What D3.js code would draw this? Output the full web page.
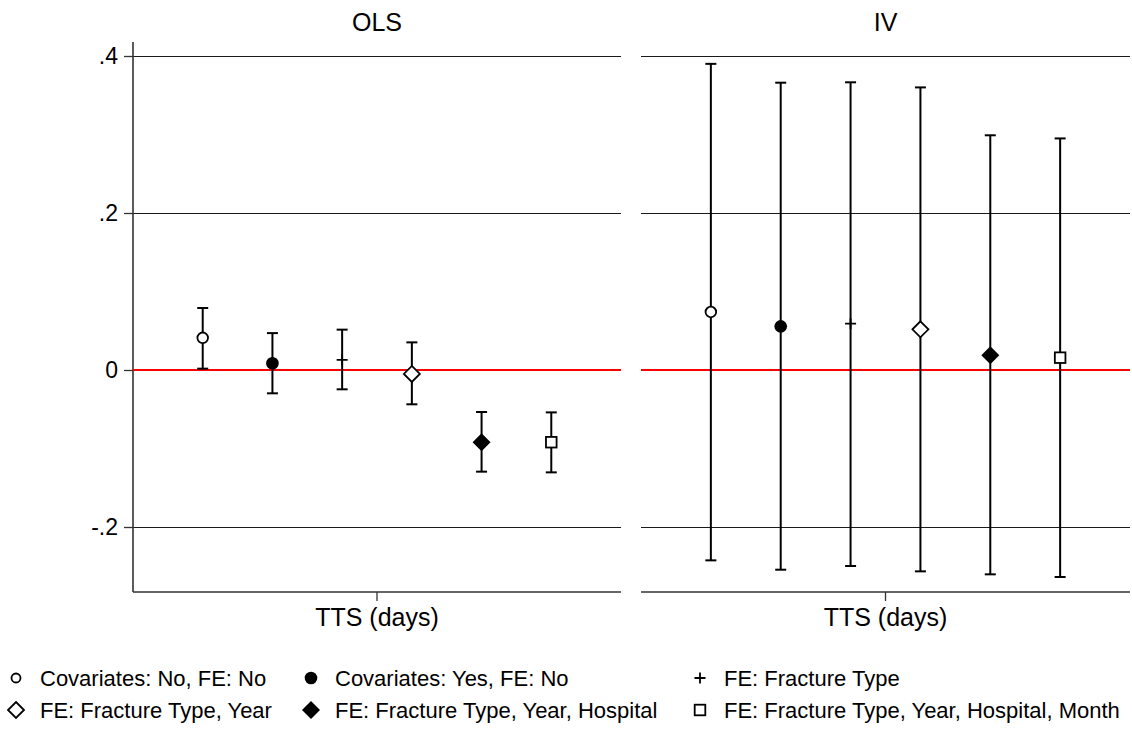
<!DOCTYPE html>
<html>
<head>
<meta charset="utf-8">
<script src="https://cdn.jsdelivr.net/npm/d3@7"></script>
<style>
  html, body { margin: 0; padding: 0; background: #fff; }
  svg { display: block; font-family: "Liberation Sans", Arial, Helvetica, sans-serif; }
</style>
</head>
<body>
<svg id="chart" width="1132" height="731"></svg>
<script>
// Specifications (one marker per specification)
const specs = [
  "Covariates: No, FE: No",
  "Covariates: Yes, FE: No",
  "FE: Fracture Type",
  "FE: Fracture Type, Year",
  "FE: Fracture Type, Year, Hospital",
  "FE: Fracture Type, Year, Hospital, Month"
];
const markerTypes = ["circleOpen", "circleFilled", "plus", "diamondOpen", "diamondFilled", "squareOpen"];

// OLS estimates with 95% CI
const olsCoef = [0.041, 0.0085, 0.013, -0.005, -0.092, -0.092];
const olsLo   = [0.0017, -0.0297, -0.0246, -0.0437, -0.1295, -0.1304];
const olsHi   = [0.079, 0.047, 0.0514, 0.0352, -0.0535, -0.054];

// IV estimates with 95% CI
const ivCoef = [0.0739, 0.0556, 0.059, 0.0518, 0.0187, 0.0157];
const ivLo   = [-0.2425, -0.2544, -0.2497, -0.2565, -0.2603, -0.2637];
const ivHi   = [0.390, 0.366, 0.3665, 0.360, 0.299, 0.295];

const panelTitles = ["OLS", "IV"];
const yTickValues = [-0.2, 0, 0.2, 0.4];
const yTickLabels = ["-.2", "0", ".2", ".4"];
const xAxisTitle = "TTS (days)";

const svg = d3.select("#chart");
const TITLE_FONT = 25;
const TICK_FONT = 23;
const LEGEND_FONT = 22;

// Shared vertical scale
const y = d3.scaleLinear().domain([-0.2, 0.4]).range([527, 56]);
const plotTop = 42, plotBottom = 592;

const panels = [
  { title: panelTitles[0], coef: olsCoef, lo: olsLo, hi: olsHi, x0: 133, x1: 621, leftAxis: true },
  { title: panelTitles[1], coef: ivCoef, lo: ivLo, hi: ivHi, x0: 641, x1: 1130, leftAxis: false }
];

function drawMarker(g, type, cx, cy, scale = 1) {
  const sw = 1.8;
  if (type === "circleOpen") {
    g.append("circle").attr("cx", cx).attr("cy", cy).attr("r", 5.3 * scale)
      .attr("fill", "#fff").attr("stroke", "#000").attr("stroke-width", sw);
  } else if (type === "circleFilled") {
    g.append("circle").attr("cx", cx).attr("cy", cy).attr("r", 6.3 * scale).attr("fill", "#000");
  } else if (type === "plus") {
    const r = 5.5 * scale;
    g.append("path").attr("d", `M${cx - r},${cy}H${cx + r}M${cx},${cy - r}V${cy + r}`)
      .attr("stroke", "#000").attr("stroke-width", sw).attr("fill", "none");
  } else if (type === "diamondOpen") {
    const r = 8 * scale;
    g.append("path").attr("d", `M${cx},${cy - r}L${cx + r},${cy}L${cx},${cy + r}L${cx - r},${cy}Z`)
      .attr("fill", "#fff").attr("stroke", "#000").attr("stroke-width", sw);
  } else if (type === "diamondFilled") {
    const r = 9 * scale;
    g.append("path").attr("d", `M${cx},${cy - r}L${cx + r},${cy}L${cx},${cy + r}L${cx - r},${cy}Z`)
      .attr("fill", "#000");
  } else if (type === "squareOpen") {
    const h = 5.3 * scale;
    g.append("rect").attr("x", cx - h).attr("y", cy - h).attr("width", 2 * h).attr("height", 2 * h)
      .attr("fill", "#fff").attr("stroke", "#000").attr("stroke-width", sw);
  }
}

panels.forEach(p => {
  const x = d3.scaleLinear().domain([0, specs.length + 1]).range([p.x0, p.x1]);
  const g = svg.append("g");

  // horizontal gridlines
  g.selectAll("line.grid").data(yTickValues.filter(v => v !== 0)).join("line")
    .attr("x1", p.x0).attr("x2", p.x1)
    .attr("y1", d => y(d) + 0.5).attr("y2", d => y(d) + 0.5)
    .attr("stroke", "#1a1a1a").attr("stroke-width", 1);

  // left axis (first panel only)
  if (p.leftAxis) {
    const axis = d3.axisLeft(y).tickValues(yTickValues)
      .tickFormat((d, i) => yTickLabels[i]).tickSize(9).tickPadding(6);
    const ag = g.append("g").attr("transform", `translate(${p.x0},0)`).call(axis);
    ag.select(".domain").remove();
    ag.selectAll(".tick line").attr("stroke", "#333").attr("stroke-width", 1.3);
    ag.selectAll(".tick text").attr("font-size", TICK_FONT).attr("fill", "#000")
      .attr("font-family", "'Liberation Sans', Arial, sans-serif");
    g.append("line").attr("x1", p.x0).attr("x2", p.x0).attr("y1", plotTop).attr("y2", plotBottom)
      .attr("stroke", "#333").attr("stroke-width", 1.6);
  }

  // zero reference line
  g.append("line").attr("x1", p.x0).attr("x2", p.x1)
    .attr("y1", y(0)).attr("y2", y(0))
    .attr("stroke", "#ff0000").attr("stroke-width", 2);

  // bottom axis
  g.append("line").attr("x1", p.x0).attr("x2", p.x1)
    .attr("y1", plotBottom).attr("y2", plotBottom)
    .attr("stroke", "#333").attr("stroke-width", 1.6);
  const xc = (p.x0 + p.x1) / 2;
  g.append("line").attr("x1", xc).attr("x2", xc).attr("y1", plotBottom).attr("y2", plotBottom + 9)
    .attr("stroke", "#333").attr("stroke-width", 1.3);
  g.append("text").attr("x", xc).attr("y", 626).attr("text-anchor", "middle")
    .attr("font-size", TITLE_FONT).text(xAxisTitle);

  // panel title
  g.append("text").attr("x", xc).attr("y", 31).attr("text-anchor", "middle")
    .attr("font-size", TITLE_FONT).text(p.title);

  // confidence intervals
  const cap = 5.5;
  specs.forEach((s, i) => {
    const cx = x(i + 1);
    g.append("line").attr("x1", cx).attr("x2", cx).attr("y1", y(p.lo[i])).attr("y2", y(p.hi[i]))
      .attr("stroke", "#000").attr("stroke-width", 2);
    [p.lo[i], p.hi[i]].forEach(v => {
      g.append("line").attr("x1", cx - cap).attr("x2", cx + cap).attr("y1", y(v)).attr("y2", y(v))
        .attr("stroke", "#000").attr("stroke-width", 2);
    });
  });
  // point estimates
  specs.forEach((s, i) => drawMarker(g, markerTypes[i], x(i + 1), y(p.coef[i])));
});

// legend: 3 columns x 2 rows
const legendCols = [16, 311, 700];
const legendRows = [678, 710];
const lg = svg.append("g");
specs.forEach((s, i) => {
  const col = i % 3, row = Math.floor(i / 3);
  const cx = legendCols[col], cy = legendRows[row];
  drawMarker(lg, markerTypes[i], cx, cy, markerTypes[i] === "circleOpen" ? 0.85 : 1);
  lg.append("text").attr("x", cx + 24).attr("y", cy + 8).attr("font-size", LEGEND_FONT).text(s);
});
</script>
</body>
</html>
